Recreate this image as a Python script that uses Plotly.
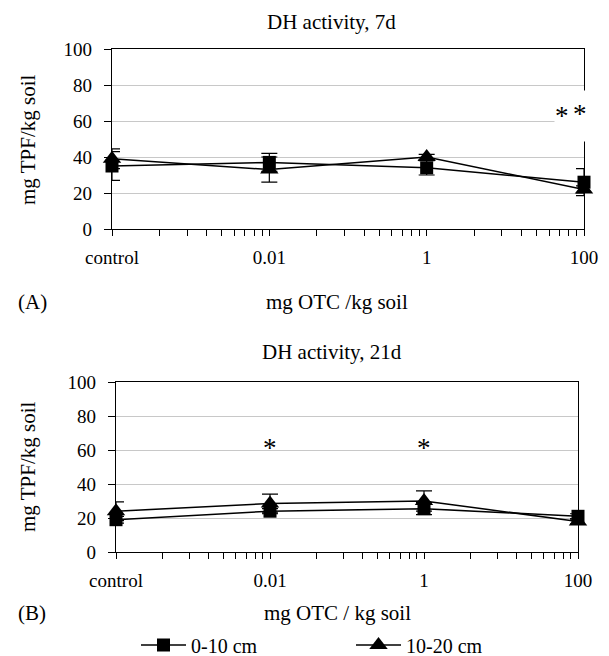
import numpy as np
import plotly.graph_objects as go

# ---- data ----
categories = ["control", "0.01", "1", "100"]
xpos = [0, 1, 2, 3]

d7_0_10 = [35, 37, 34, 26]
d7_0_10_err = [8, 5, 4, 7.5]
d7_10_20 = [39, 33, 40, 22]
d7_10_20_err = [5.5, 7, 1.5, 2]

d21_0_10 = [19, 24, 25.5, 21]
d21_0_10_err = [2, 1.5, 3.5, 1.5]
d21_10_20 = [24, 28.5, 30, 18]
d21_10_20_err = [5.5, 5.5, 6, 1.5]

y_ticks = [0, 20, 40, 60, 80, 100]

# page body has an 8px margin; compensate
OFF = 8
W, H = 609 - OFF, 656 - OFF
FONT = "Liberation Serif, Times New Roman, serif"

def px_x(v):
    return (v - OFF) / W

def px_y(v):
    return 1 - (v - OFF) / H

fig = go.Figure()

def add_series(xa, ya, y, err, symbol, size, name, show):
    fig.add_trace(go.Scatter(
        x=xpos, y=y, xaxis=xa, yaxis=ya, name=name, showlegend=show,
        mode="lines+markers",
        line=dict(color="black", width=1.5),
        marker=dict(symbol=symbol, size=size, color="black"),
        error_y=dict(type="data", array=err, visible=True, color="black",
                     thickness=1.2, width=8),
        cliponaxis=False,
    ))

add_series("x", "y", d7_0_10, d7_0_10_err, "square", 13, "0-10 cm", True)
add_series("x", "y", d7_10_20, d7_10_20_err, "triangle-up", 16, "10-20 cm", True)
add_series("x2", "y2", d21_0_10, d21_0_10_err, "square", 13, "0-10 cm", False)
add_series("x2", "y2", d21_10_20, d21_10_20_err, "triangle-up", 16, "10-20 cm", False)

minor_vals = [i + np.log10(k) for i in range(3) for k in range(2, 10)]

xcommon = dict(
    range=[0, 3], tickmode="array", tickvals=xpos, ticktext=categories,
    ticks="outside", ticklen=6, tickcolor="black", tickwidth=1,
    showline=True, linecolor="black", linewidth=1.2, mirror=True,
    showgrid=False, zeroline=False, automargin=False, ticklabelstandoff=5,
    tickfont=dict(family=FONT, size=19, color="black"),
    minor=dict(tickmode="array", tickvals=minor_vals, ticks="outside",
               ticklen=6, tickcolor="black", tickwidth=1, showgrid=False),
)
ycommon = dict(
    range=[0, 100], tickmode="array", tickvals=y_ticks,
    ticks="outside", ticklen=7, tickcolor="black", tickwidth=1,
    showline=True, linecolor="black", linewidth=1.2, mirror=True,
    showgrid=True, gridcolor="#c8c8c8", gridwidth=1, zeroline=False,
    automargin=False, ticklabelstandoff=8,
    tickfont=dict(family=FONT, size=19, color="black"),
)

fig.update_layout(
    width=W, height=H, margin=dict(l=0, r=0, t=0, b=0, autoexpand=False),
    paper_bgcolor="white", plot_bgcolor="white",
    font=dict(family=FONT, size=20, color="black"),
    xaxis=dict(domain=[px_x(112), px_x(584)], anchor="y", **xcommon),
    yaxis=dict(domain=[px_y(229), px_y(49)], anchor="x", **ycommon),
    xaxis2=dict(domain=[px_x(116), px_x(578)], anchor="y2", **xcommon),
    yaxis2=dict(domain=[px_y(552), px_y(382)], anchor="x2", **ycommon),
    legend=dict(orientation="h", x=px_x(136), xanchor="left",
                y=px_y(645), yanchor="middle", itemwidth=45,
                entrywidth=155, entrywidthmode="pixels",
                font=dict(family=FONT, size=20), bgcolor="rgba(0,0,0,0)",
                tracegroupgap=0),
    showlegend=True,
)

def text(x, y, s, size=21, xanchor="center", rot=0, bg=None):
    fig.add_annotation(x=px_x(x), y=px_y(y), xref="paper", yref="paper",
                       text=s, showarrow=False, xanchor=xanchor, yanchor="middle",
                       textangle=rot, font=dict(family=FONT, size=size, color="black"),
                       bgcolor=bg)

text(331, 22, "DH activity, 7d")
text(337, 302, "mg OTC /kg soil")
text(16, 302, "(A)", xanchor="left")
text(28, 140, "mg TPF/kg soil", rot=-90)

text(332, 352, "DH activity, 21d")
text(337, 613, "mg OTC / kg soil")
text(16, 613, "(B)", xanchor="left")
text(28, 467, "mg TPF/kg soil", rot=-90)

# white box of the significance label over the right border (top panel)
fig.add_annotation(x=2.927, y=63, xref="x", yref="y", text=" ", showarrow=False,
                   xanchor="center", yanchor="middle", bgcolor="white",
                   height=48, width=34)
# significance markers
for xa, ya, xv, yv in [("x", "y", 2.861, 63), ("x", "y", 2.975, 64),
                       ("x2", "y2", 1, 61), ("x2", "y2", 2, 61)]:
    fig.add_annotation(x=xv, y=yv, xref=xa, yref=ya, text="*", showarrow=False,
                       font=dict(family=FONT, size=27, color="black"),
                       xanchor="center", yanchor="middle")

fig.write_html("out.html")
